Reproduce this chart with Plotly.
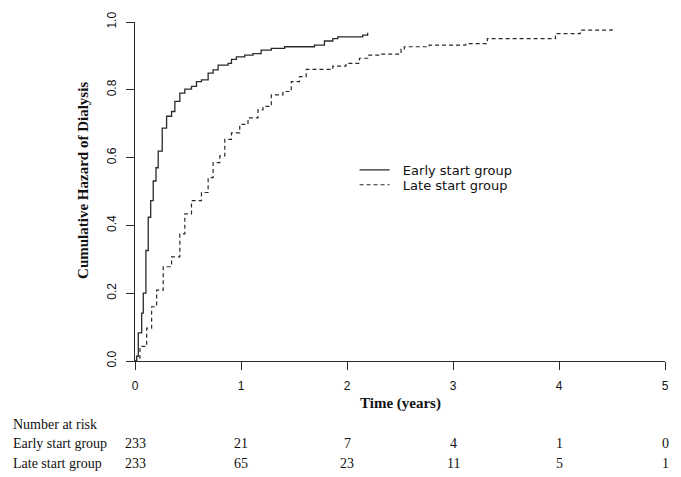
import plotly.graph_objects as go

# Data
early_t = [0, 0.015, 0.031, 0.063, 0.078, 0.103, 0.125, 0.148, 0.172, 0.198, 0.219, 0.257,
           0.298, 0.345, 0.376, 0.423, 0.47, 0.533, 0.58, 0.627, 0.69, 0.737, 0.784, 0.878,
           0.91, 0.957, 1.035, 1.113, 1.19, 1.286, 1.411, 1.693, 1.787, 1.866, 1.913, 2.148, 2.195]
early_v = [0, 0.014, 0.083, 0.141, 0.20, 0.326, 0.424, 0.473, 0.531, 0.570, 0.619, 0.687,
           0.722, 0.736, 0.766, 0.790, 0.802, 0.810, 0.824, 0.829, 0.849, 0.859, 0.873, 0.878,
           0.890, 0.897, 0.902, 0.907, 0.917, 0.922, 0.927, 0.932, 0.944, 0.951, 0.956, 0.961, 0.968]

late_t = [0, 0.016, 0.047, 0.11, 0.157, 0.204, 0.266, 0.345, 0.423, 0.47, 0.533, 0.627,
          0.69, 0.737, 0.8, 0.847, 0.91, 0.988, 1.066, 1.16, 1.207, 1.286, 1.395, 1.474,
          1.552, 1.615, 1.866, 1.99, 2.117, 2.195, 2.305, 2.51, 2.54, 2.775, 3.12, 3.324,
          3.967, 4.2, 4.5]
late_v = [0, 0.009, 0.043, 0.097, 0.160, 0.209, 0.278, 0.307, 0.375, 0.434, 0.473, 0.497,
          0.541, 0.585, 0.605, 0.654, 0.673, 0.698, 0.717, 0.741, 0.751, 0.785, 0.795, 0.824,
          0.839, 0.860, 0.870, 0.878, 0.893, 0.902, 0.905, 0.920, 0.927, 0.932, 0.936, 0.951,
          0.966, 0.976, 0.985]

x_ticks = [0, 1, 2, 3, 4, 5]
y_ticks = [0.0, 0.2, 0.4, 0.6, 0.8, 1.0]
y_tick_labels = ["0.0", "0.2", "0.4", "0.6", "0.8", "1.0"]
risk_times = [0, 1, 2, 3, 4, 5]
risk_early = [233, 21, 7, 4, 1, 0]
risk_late = [233, 65, 23, 11, 5, 1]

INK = "#2a2a2a"
SERIF = "Liberation Serif, Times New Roman, serif"
SANS = "Liberation Sans, Arial, sans-serif"
WIDE_SANS = "DejaVu Sans, Verdana, sans-serif"

W, H = 681, 477
L, R, T, B = 135, 15, 20, 115.5
pw = W - L - R
ph = H - T - B

def px_to_paper_x(px):
    return (px - L) / pw

def px_to_paper_y(py):
    return (H - B - py) / ph

fig = go.Figure()
fig.add_trace(go.Scatter(x=early_t, y=early_v, mode="lines", line_shape="hv",
                         name="\u00a0\u00a0Early start group", legend="legend",
                         line=dict(color=INK, width=1.3)))
fig.add_trace(go.Scatter(x=late_t, y=late_v, mode="lines", line_shape="hv",
                         name="\u00a0\u00a0Late start group", legend="legend2",
                         line=dict(color=INK, width=1.2, dash="4px,3px")))

leg_common = dict(xanchor="left", yanchor="middle", bgcolor="rgba(0,0,0,0)",
                  font=dict(family=WIDE_SANS, size=13, color="#111"),
                  itemwidth=30, borderwidth=0)

fig.update_layout(
    width=W, height=H,
    margin=dict(l=L, r=R, t=T, b=B),
    paper_bgcolor="white", plot_bgcolor="white",
    showlegend=True,
    legend=dict(x=px_to_paper_x(355), y=px_to_paper_y(169), **leg_common),
    legend2=dict(x=px_to_paper_x(355), y=px_to_paper_y(184), **leg_common),
    xaxis=dict(range=[0, 5], tickvals=x_ticks, ticktext=[str(v) for v in x_ticks],
               showgrid=False, zeroline=False, showline=True, linecolor=INK, linewidth=1,
               ticks="outside", ticklen=8, tickcolor=INK, tickwidth=1, ticklabelstandoff=6,
               tickfont=dict(family=SANS, size=12, color="#111"), fixedrange=True),
    yaxis=dict(range=[0, 1], tickvals=y_ticks, ticktext=y_tick_labels, tickangle=-90,
               showgrid=False, zeroline=False, showline=True, linecolor=INK, linewidth=1,
               ticks="outside", ticklen=8, tickcolor=INK, tickwidth=1, ticklabelstandoff=5,
               tickfont=dict(family=SANS, size=12, color="#111"), fixedrange=True),
)

ann = []
ann.append(dict(text="<b>Cumulative Hazard of Dialysis</b>", x=px_to_paper_x(83), y=px_to_paper_y(180),
                xref="paper", yref="paper", showarrow=False, textangle=-90,
                font=dict(family=SERIF, size=15, color="#111"), xanchor="center", yanchor="middle"))
ann.append(dict(text="<b>Time (years)</b>", x=2.5, y=px_to_paper_y(404),
                xref="x", yref="paper", showarrow=False,
                font=dict(family=SERIF, size=15, color="#111"), xanchor="center", yanchor="middle"))
ann.append(dict(text="Number at risk", x=px_to_paper_x(11), y=px_to_paper_y(425),
                xref="paper", yref="paper", showarrow=False,
                font=dict(family=SERIF, size=14, color="#111"), xanchor="left", yanchor="middle"))
for label, vals, ypx in [("Early start group", risk_early, 445), ("Late start group", risk_late, 465)]:
    ann.append(dict(text=label, x=px_to_paper_x(11), y=px_to_paper_y(ypx),
                    xref="paper", yref="paper", showarrow=False,
                    font=dict(family=SERIF, size=14, color="#111"), xanchor="left", yanchor="middle"))
    for t, v in zip(risk_times, vals):
        ann.append(dict(text=str(v), x=t, y=px_to_paper_y(ypx), xref="x", yref="paper",
                        showarrow=False, font=dict(family=SERIF, size=14, color="#111"),
                        xanchor="center", yanchor="middle"))
fig.update_layout(annotations=ann)

fig.write_html("out.html", config={"displayModeBar": False},
               post_script="document.body.style.margin='0';document.body.style.overflow='hidden';")
